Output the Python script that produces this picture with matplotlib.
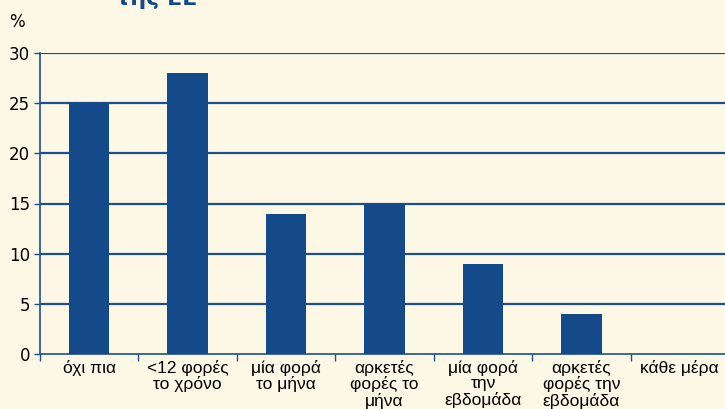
import numpy as np
import matplotlib.pyplot as plt

categories = ['όχι πια', '<12 φορές\nτο χρόνο', 'μία φορά\nτο μήνα', 'αρκετές\nφορές το\nμήνα',
              'μία φορά\nτην\nεβδομάδα', 'αρκετές\nφορές την\nεβδομάδα', 'κάθε μέρα']
values = [25, 28, 14, 15, 9, 4, 0]
yticks = [0, 5, 10, 15, 20, 25, 30]

bg = '#fdf8e6'
navy = '#154a8a'
line = '#1d4f8c'

fig = plt.figure(figsize=(7.25, 4.09), dpi=100, facecolor=bg)
ax = fig.add_axes([40/725, 55/409, 689/725, 301/409], facecolor=bg)

x = np.arange(len(categories))
ax.bar(x, values, width=0.41, color=navy, zorder=3)
ax.set_xlim(-0.5, len(categories) - 0.5)
ax.set_ylim(0, 30)

for v in yticks[1:]:
    ax.axhline(v, color=line, lw=1.6, zorder=1)

ax.set_yticks(yticks)
ax.set_yticklabels([str(v) for v in yticks], fontsize=12, family='DejaVu Sans')
ax.tick_params(axis='y', length=4, width=1, color=line, pad=3)

ax.set_xticks(np.arange(len(categories) + 1) - 0.5)
ax.set_xticklabels([])
ax.tick_params(axis='x', length=5, width=1, color=line, direction='out')
for i, c in enumerate(categories):
    ax.text(i, -0.6, c, ha='center', va='top', fontsize=12.5, family='Liberation Sans',
            linespacing=1.02, clip_on=False)

for s in ['top', 'right']:
    ax.spines[s].set_visible(False)
ax.spines['left'].set_color(line)
ax.spines['bottom'].set_color(line)
ax.spines['left'].set_linewidth(1.2)
ax.spines['bottom'].set_linewidth(1.2)

fig.text(17/725, 1 - 22/409, '%', fontsize=12, ha='center', va='center', family='DejaVu Sans')
fig.text(157/725, 1 - 5/409, 'της ΕΕ', fontsize=16, fontweight='bold', color=navy,
         ha='center', va='baseline', family='DejaVu Sans')

fig.savefig('out.png', dpi=100, facecolor=bg)
